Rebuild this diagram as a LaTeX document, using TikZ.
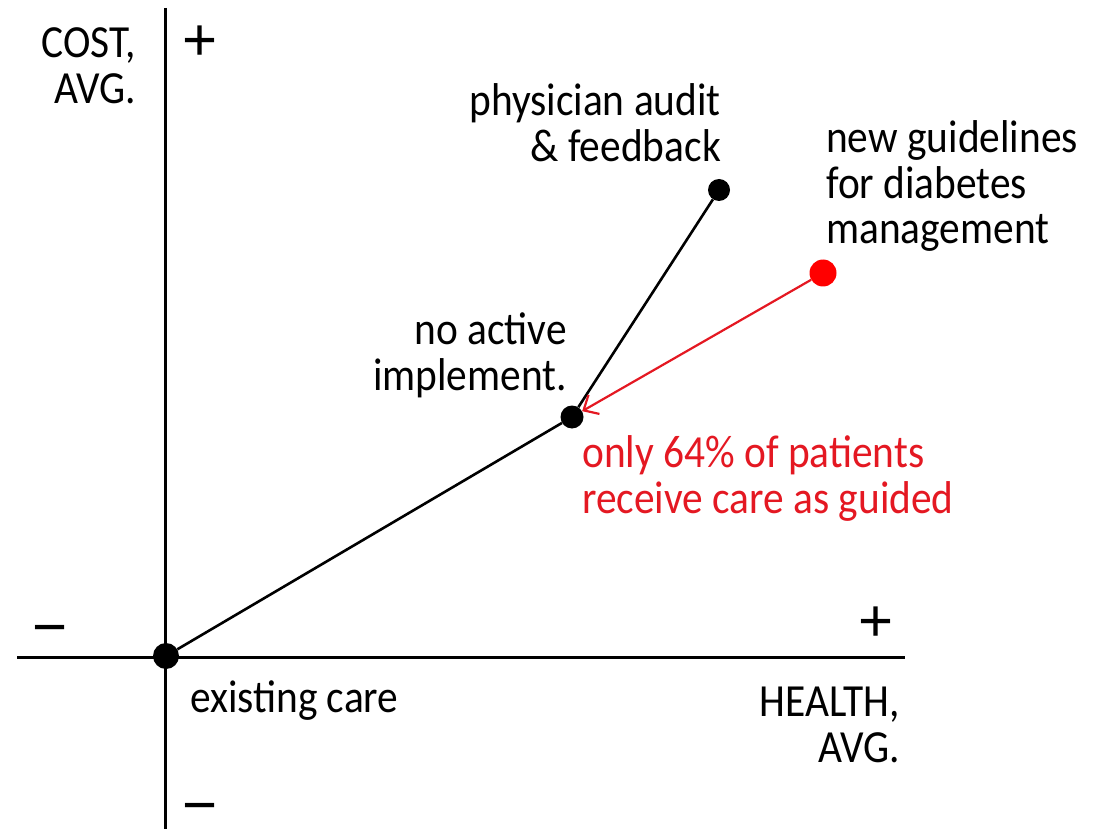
\documentclass[tikz,border=0pt]{standalone}
\usepackage{fontspec}
\setmainfont{Carlito}[FakeStretch=0.9]
\newfontfamily\symfont{Liberation Sans}
\usetikzlibrary{arrows.meta}
\definecolor{dotred}{RGB}{255,0,0}
\definecolor{txtred}{RGB}{228,24,34}
\begin{document}
\begin{tikzpicture}[x=1pt,y=-1pt,
  lbl/.style={inner sep=0pt,font=\fontsize{46}{46}\selectfont,align=left},
  sym/.style={inner sep=0pt,text height=20pt,text depth=0pt,font=\symfont\fontsize{60}{60}\selectfont},
  axis/.style={line width=3pt},
  conn/.style={line width=2.6pt},
  dotb/.style={circle,fill=black,inner sep=0pt,minimum size=#1},
  dotr/.style={circle,fill=dotred,inner sep=0pt,minimum size=#1}]
\useasboundingbox (0,0) rectangle (1093,829);
\coordinate (vt) at (165,8);
\coordinate (vb) at (165,829);
\coordinate (hl) at (17,657);
\coordinate (hr) at (905,657);
\draw[axis] (vt) -- (vb);
\draw[axis] (hl) -- (hr);
\node[dotb=26pt] (o) at (166,656) {};
\node[dotb=23pt] (m) at (572,417) {};
\node[dotb=22pt] (p) at (719,190) {};
\node[dotr=27pt] (g) at (823,273) {};
\draw[conn] (o) -- (m);
\draw[conn] (m) -- (p);
\draw[line width=2.2pt,txtred,-{Straight Barb[length=12pt,width=22pt,line width=2.2pt]}] (g) -- (m);
% anchors: baseline of the last line
\node[lbl,align=right,anchor=base east] (cost) at (136,104) {COST,\\AVG.};
\node[lbl,align=right,anchor=base east] (health) at (900,762) {HEALTH,\\AVG.};
\node[lbl,align=right,anchor=base east] (pa) at (721,162) {physician audit\\\& feedback};
\node[lbl,anchor=base west] (ng) at (826,244) {new guidelines\\for diabetes\\management};
\node[lbl,align=right,anchor=base east] (na) at (567,390) {no active\\implement.};
\node[lbl,anchor=base west,text=txtred] (only) at (582,513) {only 64\% of patients\\receive care as guided};
\node[lbl,anchor=base west] (ex) at (190,712) {existing care};
\node[sym] (py) at (200,51) {+};
\node[sym] (px) at (876,631) {+};
\node[sym] (mx) at (50,637) {−};
\node[sym] (my) at (200,815) {−};
\end{tikzpicture}
\end{document}
